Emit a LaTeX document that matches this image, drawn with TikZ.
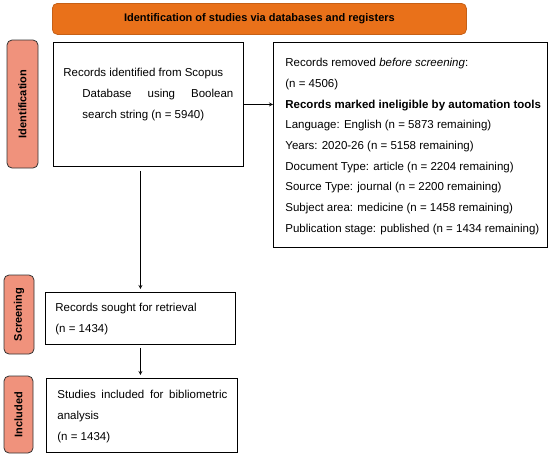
\documentclass[tikz,border=0pt]{standalone}
\usepackage{fontspec}
\setmainfont{Liberation Sans}
\usetikzlibrary{arrows}
\definecolor{bannerorange}{RGB}{233,113,26}
\definecolor{phasesalmon}{RGB}{240,146,124}

\begin{document}
\begin{tikzpicture}[x=1pt, y=-1pt, ->, >=stealth, line width=0.8pt,
  banner/.style={draw=bannerorange!85!black, fill=bannerorange, rounded corners=5pt, anchor=north west, inner sep=0pt, minimum width=414pt, minimum height=31pt, font=\bfseries\fontsize{11}{13}\selectfont},
  phase/.style={draw=black!80, fill=phasesalmon, rounded corners=5pt, rotate=90, inner sep=0pt, font=\bfseries\fontsize{11}{13}\selectfont},
  box/.style={draw, anchor=north west, inner sep=0pt},
  txt/.style={anchor=north west, inner sep=0pt, align=left, font=\fontsize{11.5}{20.7}\selectfont}]
\useasboundingbox (0,0) rectangle (550,456);

\node[banner](title) at (52,3) {Identification of studies via databases and registers};

\node[phase, minimum width=128pt, minimum height=31pt](idphase) at (22.5,104) {Identification};
\node[phase, minimum width=79pt, minimum height=30pt](scphase) at (19,314.5) {Screening};
\node[phase, minimum width=77pt, minimum height=29pt](inphase) at (18.5,414.5) {Included};

\node[box, minimum width=190pt, minimum height=124pt](ident) at (53,42) {};
\node[txt](identtext) at ([shift={(10,26)}]ident.north west) {Records identified from Scopus\\
  \hspace*{19pt}\hbox to 151pt{Database\hfill using\hfill Boolean}\\
  \hspace*{19pt}search string (n = 5940)};

\node[box, minimum width=274pt, minimum height=205pt](removed) at (273,42) {};
\node[txt](removedtext) at ([shift={(12,16)}]removed.north west) {Records removed \textit{before screening}:\\
  (n = 4506)\\
  \textbf{Records marked ineligible by automation tools}\\
  Language: English (n = 5873 remaining)\\
  Years: 2020-26 (n = 5158 remaining)\\
  Document Type: article (n = 2204 remaining)\\
  Source Type: journal (n = 2200 remaining)\\
  Subject area: medicine (n = 1458 remaining)\\
  Publication stage: published (n = 1434 remaining)};

\node[box, minimum width=190pt, minimum height=52pt](screen) at (45,292) {};
\node[txt](screentext) at ([shift={(10,11)}]screen.north west) {Records sought for retrieval\\
  (n = 1434)};

\node[box, minimum width=191pt, minimum height=74pt](incl) at (46,378) {};
\node[txt](incltext) at ([shift={(11,12)}]incl.north west) {\hbox to 170pt{Studies\hfill included\hfill for\hfill bibliometric}\\
  analysis\\
  (n = 1434)};

\path (ident.east) edge (ident.east -| removed.west);
\path (ident.south -| screen.north) edge[shorten <=4pt, shorten >=3pt] (screen.north);
\path (screen.south) edge[shorten <=3pt, shorten >=3pt] (screen.south |- incl.north);
\end{tikzpicture}
\end{document}
